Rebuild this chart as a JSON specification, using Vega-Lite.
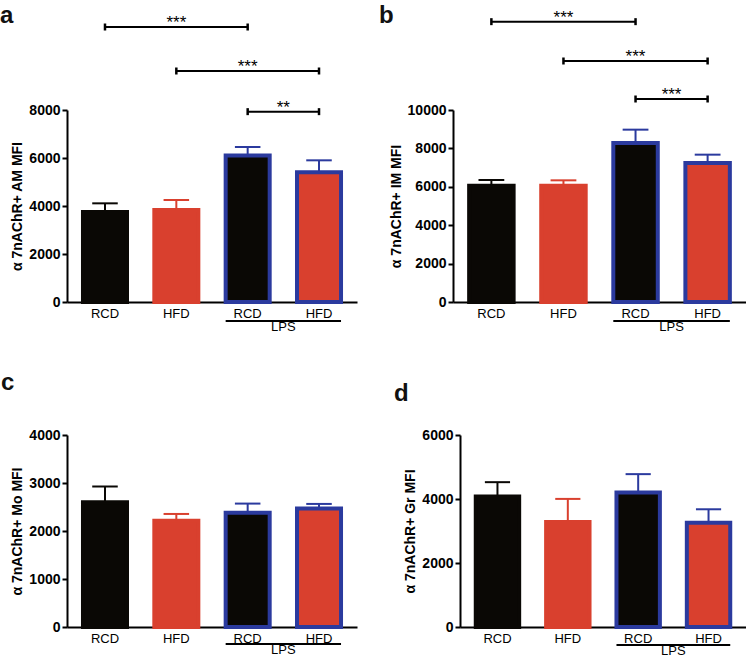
{
"$schema": "https://vega.github.io/schema/vega-lite/v6.json",
"padding": {"left": 0, "top": 3, "right": 0, "bottom": 0},
"config": {
 "view": {"stroke": null},
 "font": "Liberation Sans",
 "axisY": {"domainColor": "black", "domainWidth": 2, "tickColor": "black", "tickWidth": 2, "tickSize": 5, "labelFontSize": 14, "labelFontWeight": "bold", "labelColor": "black", "labelPadding": 2, "titleFontSize": 14, "titleFontWeight": "bold", "titleColor": "black", "titlePadding": 4, "grid": false, "labelFont": "Liberation Sans", "titleFont": "Liberation Sans", "format": "d", "labelOverlap": false, "tickCount": 12},
 "axisX": {"domainColor": "black", "domainWidth": 2, "ticks": false, "labelFontSize": 13, "labelColor": "black", "labelPadding": 5, "grid": false, "labelAngle": 0, "labelFont": "Liberation Sans"},
 "title": {"anchor": "start", "frame": "group", "fontSize": 24, "fontWeight": "bold", "font": "Liberation Sans", "color": "#111111"}
},
"datasets": {
 "bars": [
  {"panel": "a", "group": "RCD", "mean": 3750, "err": 4111},
  {"panel": "a", "group": "HFD", "mean": 3833, "err": 4250},
  {"panel": "a", "group": "RCD LPS", "mean": 6100, "err": 6458},
  {"panel": "a", "group": "HFD LPS", "mean": 5410, "err": 5903},
  {"panel": "b", "group": "RCD", "mean": 6059, "err": 6354},
  {"panel": "b", "group": "HFD", "mean": 6059, "err": 6337},
  {"panel": "b", "group": "RCD LPS", "mean": 8280, "err": 8976},
  {"panel": "b", "group": "HFD LPS", "mean": 7240, "err": 7674},
  {"panel": "c", "group": "RCD", "mean": 2599, "err": 2927},
  {"panel": "c", "group": "HFD", "mean": 2216, "err": 2355},
  {"panel": "c", "group": "RCD LPS", "mean": 2380, "err": 2571},
  {"panel": "c", "group": "HFD LPS", "mean": 2470, "err": 2564},
  {"panel": "d", "group": "RCD", "mean": 4077, "err": 4526},
  {"panel": "d", "group": "HFD", "mean": 3282, "err": 4003},
  {"panel": "d", "group": "RCD LPS", "mean": 4200, "err": 4777},
  {"panel": "d", "group": "HFD LPS", "mean": 3260, "err": 3679}
 ],
 "sig": [
  {"panel": "a", "from": "RCD", "to": "RCD LPS", "mid": "HFD", "half": false, "y": 11458, "label": "***"},
  {"panel": "a", "from": "HFD", "to": "HFD LPS", "mid": "RCD LPS", "half": false, "y": 9625, "label": "***"},
  {"panel": "a", "from": "RCD LPS", "to": "HFD LPS", "mid": "RCD LPS", "half": true, "y": 7931, "label": "**"},
  {"panel": "b", "from": "RCD", "to": "RCD LPS", "mid": "HFD", "half": false, "y": 14601, "label": "***"},
  {"panel": "b", "from": "HFD", "to": "HFD LPS", "mid": "RCD LPS", "half": false, "y": 12552, "label": "***"},
  {"panel": "b", "from": "RCD LPS", "to": "HFD LPS", "mid": "RCD LPS", "half": true, "y": 10573, "label": "***"}
 ],
 "lps": [
  {"panel": "a", "from": "RCD LPS", "to": "HFD LPS", "y": -792, "label": "LPS"},
  {"panel": "b", "from": "RCD LPS", "to": "HFD LPS", "y": -990, "label": "LPS"},
  {"panel": "c", "from": "RCD LPS", "to": "HFD LPS", "y": -354, "label": "LPS"},
  {"panel": "d", "from": "RCD LPS", "to": "HFD LPS", "y": -563, "label": "LPS"}
 ]
},
"spacing": 36,
"vconcat": [
 {"spacing": 22, "hconcat": [
  {"width": 290, "height": 192,
   "title": {"text": "a", "dx": -67, "offset": -14},
   "layer": [
    {"data": {"name": "bars"}, "transform": [{"filter": "datum.panel === 'a'"}],
     "mark": {"type": "bar", "strokeWidth": 4},
     "encoding": {
      "x": {"field": "group", "type": "nominal", "scale": {"domain": ["RCD", "HFD", "RCD LPS", "HFD LPS"], "paddingInner": 0.383, "paddingOuter": 0.224}, "axis": {"labelExpr": "split(datum.label, ' ')[0]", "title": null}},
      "y": {"field": "mean", "type": "quantitative", "scale": {"domain": [0, 8000], "nice": false}, "axis": {"title": "α 7nAChR+ AM MFI", "values": [0, 2000, 4000, 6000, 8000]}},
      "fill": {"field": "group", "type": "nominal", "scale": {"domain": ["RCD", "HFD", "RCD LPS", "HFD LPS"], "range": ["#0a0805", "#d9402e", "#0a0805", "#d9402e"]}, "legend": null},
      "stroke": {"field": "group", "type": "nominal", "scale": {"domain": ["RCD", "HFD", "RCD LPS", "HFD LPS"], "range": ["#0a0805", "#d9402e", "#2b3a9e", "#2b3a9e"]}, "legend": null}}},
    {"data": {"name": "bars"}, "transform": [{"filter": "datum.panel === 'a'"}],
     "mark": {"type": "rule", "strokeWidth": 2},
     "encoding": {
      "x": {"field": "group", "type": "nominal", "bandPosition": 0.5, "scale": {"domain": ["RCD", "HFD", "RCD LPS", "HFD LPS"]}},
      "y": {"field": "mean", "type": "quantitative", "scale": {"domain": [0, 8000], "nice": false}},
      "y2": {"field": "err"},
      "stroke": {"field": "group", "type": "nominal", "scale": {"domain": ["RCD", "HFD", "RCD LPS", "HFD LPS"], "range": ["#0a0805", "#d9402e", "#2b3a9e", "#2b3a9e"]}, "legend": null}}},
    {"data": {"name": "bars"}, "transform": [{"filter": "datum.panel === 'a'"}],
     "mark": {"type": "rule", "strokeWidth": 2},
     "encoding": {
      "x": {"field": "group", "type": "nominal", "bandPosition": 0.21, "scale": {"domain": ["RCD", "HFD", "RCD LPS", "HFD LPS"]}},
      "x2": {"field": "group", "bandPosition": 0.79},
      "y": {"field": "err", "type": "quantitative", "scale": {"domain": [0, 8000], "nice": false}},
      "stroke": {"field": "group", "type": "nominal", "scale": {"domain": ["RCD", "HFD", "RCD LPS", "HFD LPS"], "range": ["#0a0805", "#d9402e", "#2b3a9e", "#2b3a9e"]}, "legend": null}}},
    {"data": {"name": "sig"}, "transform": [{"filter": "datum.panel === 'a'"}],
     "mark": {"type": "rule", "strokeWidth": 2, "color": "black"},
     "encoding": {
      "x": {"field": "from", "type": "nominal", "bandPosition": 0.5, "scale": {"domain": ["RCD", "HFD", "RCD LPS", "HFD LPS"]}},
      "x2": {"field": "to", "bandPosition": 0.5},
      "y": {"field": "y", "type": "quantitative", "scale": {"domain": [0, 8000], "nice": false}}}},
    {"data": {"name": "sig"}, "transform": [{"filter": "datum.panel === 'a'"}, {"fold": ["from", "to"], "as": ["end", "cat"]}],
     "mark": {"type": "point", "shape": "M0,-1L0,1", "size": 49, "filled": false, "color": "black", "strokeWidth": 2.5, "opacity": 1},
     "encoding": {
      "x": {"field": "cat", "type": "nominal", "scale": {"domain": ["RCD", "HFD", "RCD LPS", "HFD LPS"]}},
      "y": {"field": "y", "type": "quantitative", "scale": {"domain": [0, 8000], "nice": false}}}},
    {"data": {"name": "sig"}, "transform": [{"filter": "datum.panel === 'a' && !datum.half"}],
     "mark": {"type": "text", "fontSize": 17, "baseline": "alphabetic", "dy": 1, "color": "black"},
     "encoding": {
      "x": {"field": "mid", "type": "nominal", "scale": {"domain": ["RCD", "HFD", "RCD LPS", "HFD LPS"]}},
      "y": {"field": "y", "type": "quantitative", "scale": {"domain": [0, 8000], "nice": false}},
      "text": {"field": "label"}}},
    {"data": {"name": "sig"}, "transform": [{"filter": "datum.panel === 'a' && datum.half"}],
     "mark": {"type": "text", "fontSize": 17, "baseline": "alphabetic", "dy": 1, "color": "black"},
     "encoding": {
      "x": {"field": "mid", "type": "nominal", "bandPosition": 1.31, "scale": {"domain": ["RCD", "HFD", "RCD LPS", "HFD LPS"]}},
      "y": {"field": "y", "type": "quantitative", "scale": {"domain": [0, 8000], "nice": false}},
      "text": {"field": "label"}}},
    {"data": {"name": "lps"}, "transform": [{"filter": "datum.panel === 'a'"}],
     "mark": {"type": "rule", "strokeWidth": 2, "color": "black"},
     "encoding": {
      "x": {"field": "from", "type": "nominal", "bandPosition": 0, "scale": {"domain": ["RCD", "HFD", "RCD LPS", "HFD LPS"]}},
      "x2": {"field": "to", "bandPosition": 1},
      "y": {"field": "y", "type": "quantitative", "scale": {"domain": [0, 8000], "nice": false}}}},
    {"data": {"name": "lps"}, "transform": [{"filter": "datum.panel === 'a'"}],
     "mark": {"type": "text", "fontSize": 13, "baseline": "top", "dy": 0, "color": "black"},
     "encoding": {
      "x": {"field": "from", "type": "nominal", "bandPosition": 1.31, "scale": {"domain": ["RCD", "HFD", "RCD LPS", "HFD LPS"]}},
      "y": {"field": "y", "type": "quantitative", "scale": {"domain": [0, 8000], "nice": false}},
      "text": {"field": "label"}}}
   ]},
  {"width": 293, "height": 192,
   "title": {"text": "b", "dx": -74, "offset": -19},
   "layer": [
    {"data": {"name": "bars"}, "transform": [{"filter": "datum.panel === 'b'"}],
     "mark": {"type": "bar", "strokeWidth": 4},
     "encoding": {
      "x": {"field": "group", "type": "nominal", "scale": {"domain": ["RCD", "HFD", "RCD LPS", "HFD LPS"], "paddingInner": 0.383, "paddingOuter": 0.224}, "axis": {"labelExpr": "split(datum.label, ' ')[0]", "title": null}},
      "y": {"field": "mean", "type": "quantitative", "scale": {"domain": [0, 10000], "nice": false}, "axis": {"title": "α 7nAChR+ IM MFI", "values": [0, 2000, 4000, 6000, 8000, 10000], "tickCount": 12}},
      "fill": {"field": "group", "type": "nominal", "scale": {"domain": ["RCD", "HFD", "RCD LPS", "HFD LPS"], "range": ["#0a0805", "#d9402e", "#0a0805", "#d9402e"]}, "legend": null},
      "stroke": {"field": "group", "type": "nominal", "scale": {"domain": ["RCD", "HFD", "RCD LPS", "HFD LPS"], "range": ["#0a0805", "#d9402e", "#2b3a9e", "#2b3a9e"]}, "legend": null}}},
    {"data": {"name": "bars"}, "transform": [{"filter": "datum.panel === 'b'"}],
     "mark": {"type": "rule", "strokeWidth": 2},
     "encoding": {
      "x": {"field": "group", "type": "nominal", "bandPosition": 0.5, "scale": {"domain": ["RCD", "HFD", "RCD LPS", "HFD LPS"]}},
      "y": {"field": "mean", "type": "quantitative", "scale": {"domain": [0, 10000], "nice": false}},
      "y2": {"field": "err"},
      "stroke": {"field": "group", "type": "nominal", "scale": {"domain": ["RCD", "HFD", "RCD LPS", "HFD LPS"], "range": ["#0a0805", "#d9402e", "#2b3a9e", "#2b3a9e"]}, "legend": null}}},
    {"data": {"name": "bars"}, "transform": [{"filter": "datum.panel === 'b'"}],
     "mark": {"type": "rule", "strokeWidth": 2},
     "encoding": {
      "x": {"field": "group", "type": "nominal", "bandPosition": 0.21, "scale": {"domain": ["RCD", "HFD", "RCD LPS", "HFD LPS"]}},
      "x2": {"field": "group", "bandPosition": 0.79},
      "y": {"field": "err", "type": "quantitative", "scale": {"domain": [0, 10000], "nice": false}},
      "stroke": {"field": "group", "type": "nominal", "scale": {"domain": ["RCD", "HFD", "RCD LPS", "HFD LPS"], "range": ["#0a0805", "#d9402e", "#2b3a9e", "#2b3a9e"]}, "legend": null}}},
    {"data": {"name": "sig"}, "transform": [{"filter": "datum.panel === 'b'"}],
     "mark": {"type": "rule", "strokeWidth": 2, "color": "black"},
     "encoding": {
      "x": {"field": "from", "type": "nominal", "bandPosition": 0.5, "scale": {"domain": ["RCD", "HFD", "RCD LPS", "HFD LPS"]}},
      "x2": {"field": "to", "bandPosition": 0.5},
      "y": {"field": "y", "type": "quantitative", "scale": {"domain": [0, 10000], "nice": false}}}},
    {"data": {"name": "sig"}, "transform": [{"filter": "datum.panel === 'b'"}, {"fold": ["from", "to"], "as": ["end", "cat"]}],
     "mark": {"type": "point", "shape": "M0,-1L0,1", "size": 49, "filled": false, "color": "black", "strokeWidth": 2.5, "opacity": 1},
     "encoding": {
      "x": {"field": "cat", "type": "nominal", "scale": {"domain": ["RCD", "HFD", "RCD LPS", "HFD LPS"]}},
      "y": {"field": "y", "type": "quantitative", "scale": {"domain": [0, 10000], "nice": false}}}},
    {"data": {"name": "sig"}, "transform": [{"filter": "datum.panel === 'b' && !datum.half"}],
     "mark": {"type": "text", "fontSize": 17, "baseline": "alphabetic", "dy": 1, "color": "black"},
     "encoding": {
      "x": {"field": "mid", "type": "nominal", "scale": {"domain": ["RCD", "HFD", "RCD LPS", "HFD LPS"]}},
      "y": {"field": "y", "type": "quantitative", "scale": {"domain": [0, 10000], "nice": false}},
      "text": {"field": "label"}}},
    {"data": {"name": "sig"}, "transform": [{"filter": "datum.panel === 'b' && datum.half"}],
     "mark": {"type": "text", "fontSize": 17, "baseline": "alphabetic", "dy": 1, "color": "black"},
     "encoding": {
      "x": {"field": "mid", "type": "nominal", "bandPosition": 1.31, "scale": {"domain": ["RCD", "HFD", "RCD LPS", "HFD LPS"]}},
      "y": {"field": "y", "type": "quantitative", "scale": {"domain": [0, 10000], "nice": false}},
      "text": {"field": "label"}}},
    {"data": {"name": "lps"}, "transform": [{"filter": "datum.panel === 'b'"}],
     "mark": {"type": "rule", "strokeWidth": 2, "color": "black"},
     "encoding": {
      "x": {"field": "from", "type": "nominal", "bandPosition": 0, "scale": {"domain": ["RCD", "HFD", "RCD LPS", "HFD LPS"]}},
      "x2": {"field": "to", "bandPosition": 1},
      "y": {"field": "y", "type": "quantitative", "scale": {"domain": [0, 10000], "nice": false}}}},
    {"data": {"name": "lps"}, "transform": [{"filter": "datum.panel === 'b'"}],
     "mark": {"type": "text", "fontSize": 13, "baseline": "top", "dy": 0, "color": "black"},
     "encoding": {
      "x": {"field": "from", "type": "nominal", "bandPosition": 1.31, "scale": {"domain": ["RCD", "HFD", "RCD LPS", "HFD LPS"]}},
      "y": {"field": "y", "type": "quantitative", "scale": {"domain": [0, 10000], "nice": false}},
      "text": {"field": "label"}}}
   ]}
 ]},
 {"spacing": 37, "hconcat": [
  {"width": 290, "height": 192,
   "title": {"text": "c", "dx": -66, "offset": 33},
   "layer": [
    {"data": {"name": "bars"}, "transform": [{"filter": "datum.panel === 'c'"}],
     "mark": {"type": "bar", "strokeWidth": 4},
     "encoding": {
      "x": {"field": "group", "type": "nominal", "scale": {"domain": ["RCD", "HFD", "RCD LPS", "HFD LPS"], "paddingInner": 0.383, "paddingOuter": 0.224}, "axis": {"labelExpr": "split(datum.label, ' ')[0]", "title": null}},
      "y": {"field": "mean", "type": "quantitative", "scale": {"domain": [0, 4000], "nice": false}, "axis": {"title": "α 7nAChR+ Mo MFI", "values": [0, 1000, 2000, 3000, 4000]}},
      "fill": {"field": "group", "type": "nominal", "scale": {"domain": ["RCD", "HFD", "RCD LPS", "HFD LPS"], "range": ["#0a0805", "#d9402e", "#0a0805", "#d9402e"]}, "legend": null},
      "stroke": {"field": "group", "type": "nominal", "scale": {"domain": ["RCD", "HFD", "RCD LPS", "HFD LPS"], "range": ["#0a0805", "#d9402e", "#2b3a9e", "#2b3a9e"]}, "legend": null}}},
    {"data": {"name": "bars"}, "transform": [{"filter": "datum.panel === 'c'"}],
     "mark": {"type": "rule", "strokeWidth": 2},
     "encoding": {
      "x": {"field": "group", "type": "nominal", "bandPosition": 0.5, "scale": {"domain": ["RCD", "HFD", "RCD LPS", "HFD LPS"]}},
      "y": {"field": "mean", "type": "quantitative", "scale": {"domain": [0, 4000], "nice": false}},
      "y2": {"field": "err"},
      "stroke": {"field": "group", "type": "nominal", "scale": {"domain": ["RCD", "HFD", "RCD LPS", "HFD LPS"], "range": ["#0a0805", "#d9402e", "#2b3a9e", "#2b3a9e"]}, "legend": null}}},
    {"data": {"name": "bars"}, "transform": [{"filter": "datum.panel === 'c'"}],
     "mark": {"type": "rule", "strokeWidth": 2},
     "encoding": {
      "x": {"field": "group", "type": "nominal", "bandPosition": 0.21, "scale": {"domain": ["RCD", "HFD", "RCD LPS", "HFD LPS"]}},
      "x2": {"field": "group", "bandPosition": 0.79},
      "y": {"field": "err", "type": "quantitative", "scale": {"domain": [0, 4000], "nice": false}},
      "stroke": {"field": "group", "type": "nominal", "scale": {"domain": ["RCD", "HFD", "RCD LPS", "HFD LPS"], "range": ["#0a0805", "#d9402e", "#2b3a9e", "#2b3a9e"]}, "legend": null}}},
    {"data": {"name": "lps"}, "transform": [{"filter": "datum.panel === 'c'"}],
     "mark": {"type": "rule", "strokeWidth": 2, "color": "black"},
     "encoding": {
      "x": {"field": "from", "type": "nominal", "bandPosition": 0, "scale": {"domain": ["RCD", "HFD", "RCD LPS", "HFD LPS"]}},
      "x2": {"field": "to", "bandPosition": 1},
      "y": {"field": "y", "type": "quantitative", "scale": {"domain": [0, 4000], "nice": false}}}},
    {"data": {"name": "lps"}, "transform": [{"filter": "datum.panel === 'c'"}],
     "mark": {"type": "text", "fontSize": 13, "baseline": "top", "dy": 0, "color": "black"},
     "encoding": {
      "x": {"field": "from", "type": "nominal", "bandPosition": 1.31, "scale": {"domain": ["RCD", "HFD", "RCD LPS", "HFD LPS"]}},
      "y": {"field": "y", "type": "quantitative", "scale": {"domain": [0, 4000], "nice": false}},
      "text": {"field": "label"}}}
   ]},
  {"width": 286, "height": 192,
   "title": {"text": "d", "dx": -66, "offset": 22},
   "layer": [
    {"data": {"name": "bars"}, "transform": [{"filter": "datum.panel === 'd'"}],
     "mark": {"type": "bar", "strokeWidth": 4},
     "encoding": {
      "x": {"field": "group", "type": "nominal", "scale": {"domain": ["RCD", "HFD", "RCD LPS", "HFD LPS"], "paddingInner": 0.383, "paddingOuter": 0.224}, "axis": {"labelExpr": "split(datum.label, ' ')[0]", "title": null}},
      "y": {"field": "mean", "type": "quantitative", "scale": {"domain": [0, 6000], "nice": false}, "axis": {"title": "α 7nAChR+ Gr MFI", "values": [0, 2000, 4000, 6000]}},
      "fill": {"field": "group", "type": "nominal", "scale": {"domain": ["RCD", "HFD", "RCD LPS", "HFD LPS"], "range": ["#0a0805", "#d9402e", "#0a0805", "#d9402e"]}, "legend": null},
      "stroke": {"field": "group", "type": "nominal", "scale": {"domain": ["RCD", "HFD", "RCD LPS", "HFD LPS"], "range": ["#0a0805", "#d9402e", "#2b3a9e", "#2b3a9e"]}, "legend": null}}},
    {"data": {"name": "bars"}, "transform": [{"filter": "datum.panel === 'd'"}],
     "mark": {"type": "rule", "strokeWidth": 2},
     "encoding": {
      "x": {"field": "group", "type": "nominal", "bandPosition": 0.5, "scale": {"domain": ["RCD", "HFD", "RCD LPS", "HFD LPS"]}},
      "y": {"field": "mean", "type": "quantitative", "scale": {"domain": [0, 6000], "nice": false}},
      "y2": {"field": "err"},
      "stroke": {"field": "group", "type": "nominal", "scale": {"domain": ["RCD", "HFD", "RCD LPS", "HFD LPS"], "range": ["#0a0805", "#d9402e", "#2b3a9e", "#2b3a9e"]}, "legend": null}}},
    {"data": {"name": "bars"}, "transform": [{"filter": "datum.panel === 'd'"}],
     "mark": {"type": "rule", "strokeWidth": 2},
     "encoding": {
      "x": {"field": "group", "type": "nominal", "bandPosition": 0.21, "scale": {"domain": ["RCD", "HFD", "RCD LPS", "HFD LPS"]}},
      "x2": {"field": "group", "bandPosition": 0.79},
      "y": {"field": "err", "type": "quantitative", "scale": {"domain": [0, 6000], "nice": false}},
      "stroke": {"field": "group", "type": "nominal", "scale": {"domain": ["RCD", "HFD", "RCD LPS", "HFD LPS"], "range": ["#0a0805", "#d9402e", "#2b3a9e", "#2b3a9e"]}, "legend": null}}},
    {"data": {"name": "lps"}, "transform": [{"filter": "datum.panel === 'd'"}],
     "mark": {"type": "rule", "strokeWidth": 2, "color": "black"},
     "encoding": {
      "x": {"field": "from", "type": "nominal", "bandPosition": 0, "scale": {"domain": ["RCD", "HFD", "RCD LPS", "HFD LPS"]}},
      "x2": {"field": "to", "bandPosition": 1},
      "y": {"field": "y", "type": "quantitative", "scale": {"domain": [0, 6000], "nice": false}}}},
    {"data": {"name": "lps"}, "transform": [{"filter": "datum.panel === 'd'"}],
     "mark": {"type": "text", "fontSize": 13, "baseline": "top", "dy": 0, "color": "black"},
     "encoding": {
      "x": {"field": "from", "type": "nominal", "bandPosition": 1.31, "scale": {"domain": ["RCD", "HFD", "RCD LPS", "HFD LPS"]}},
      "y": {"field": "y", "type": "quantitative", "scale": {"domain": [0, 6000], "nice": false}},
      "text": {"field": "label"}}}
   ]}
 ]}
]
}
